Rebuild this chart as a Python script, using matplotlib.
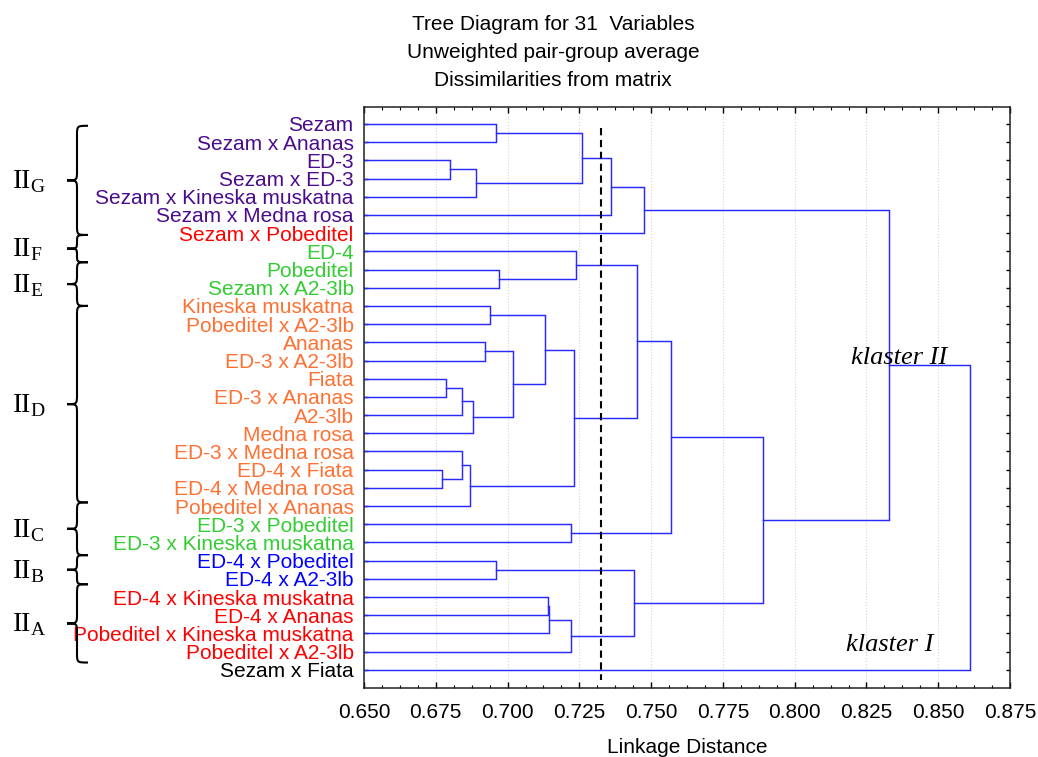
import matplotlib
matplotlib.use("Agg")
import matplotlib.pyplot as plt
from matplotlib.path import Path
from matplotlib.patches import PathPatch
from matplotlib.ticker import MultipleLocator, FormatStrFormatter

plt.rcParams['font.family'] = ['Liberation Sans', 'DejaVu Sans']
plt.rcParams['mathtext.fontset'] = 'custom'
plt.rcParams['mathtext.rm'] = 'Liberation Serif'

# leaves, top to bottom
labels = ["Sezam", "Sezam x Ananas", "ED-3", "Sezam x ED-3",
          "Sezam x Kineska muskatna", "Sezam x Medna rosa", "Sezam x Pobeditel",
          "ED-4", "Pobeditel", "Sezam x A2-3lb", "Kineska muskatna",
          "Pobeditel x A2-3lb", "Ananas", "ED-3 x A2-3lb", "Fiata",
          "ED-3 x Ananas", "A2-3lb", "Medna rosa", "ED-3 x Medna rosa",
          "ED-4 x Fiata", "ED-4 x Medna rosa", "Pobeditel x Ananas",
          "ED-3 x Pobeditel", "ED-3 x Kineska muskatna", "ED-4 x Pobeditel",
          "ED-4 x A2-3lb", "ED-4 x Kineska muskatna", "ED-4 x Ananas",
          "Pobeditel x Kineska muskatna", "Pobeditel x A2-3lb", "Sezam x Fiata"]

PURPLE = '#4b0c8c'
RED = '#ff0000'
GREEN = '#33cc33'
ORANGE = '#ff7033'
BLUE = '#0000ff'
label_colors = ([PURPLE] * 6 + [RED] + [GREEN] * 3 + [ORANGE] * 12 +
                [GREEN] * 2 + [BLUE] * 2 + [RED] * 4 + ['black'])

# merges (child a, child b, linkage distance); new node ids start at 31
merges = [
    (0, 1, 0.696),      # 31
    (2, 3, 0.680),      # 32
    (32, 4, 0.689),     # 33
    (31, 33, 0.726),    # 34
    (34, 5, 0.736),     # 35
    (35, 6, 0.7475),    # 36
    (8, 9, 0.697),      # 37
    (7, 37, 0.724),     # 38
    (10, 11, 0.694),    # 39
    (12, 13, 0.692),    # 40
    (14, 15, 0.6785),   # 41
    (41, 16, 0.684),    # 42
    (42, 17, 0.688),    # 43
    (40, 43, 0.702),    # 44
    (39, 44, 0.713),    # 45
    (19, 20, 0.677),    # 46
    (18, 46, 0.684),    # 47
    (47, 21, 0.687),    # 48
    (45, 48, 0.723),    # 49
    (38, 49, 0.745),    # 50
    (22, 23, 0.722),    # 51
    (50, 51, 0.757),    # 52
    (24, 25, 0.696),    # 53
    (26, 27, 0.714),    # 54
    (54, 28, 0.7145),   # 55
    (55, 29, 0.722),    # 56
    (53, 56, 0.744),    # 57
    (52, 57, 0.789),    # 58
    (36, 58, 0.833),    # 59
    (59, 30, 0.861),    # 60
]

cut_distance = 0.7324

# subgroup braces: name, top, bottom (in leaf units)
group_names = ["G", "F", "E", "D", "C", "B", "A"]
group_top = [0.1, 6.1, 7.6, 10.0, 20.8, 23.7, 25.3]
group_bottom = [6.1, 7.6, 10.0, 20.8, 23.7, 25.3, 29.6]

title_lines = ["Tree Diagram for 31  Variables", "Unweighted pair-group average",
               "Dissimilarities from matrix"]

W, H = 1038, 757
fig = plt.figure(figsize=(W / 100, H / 100), dpi=100)
ax = fig.add_axes([364 / W, 1 - 688 / H, (1010 - 364) / W, (688 - 106.7) / H])

x_min, x_max = 0.650, 0.875
n = len(labels)
line_color = '#2a2aff'

node_x = [x_min] * n
node_y = list(range(n))
for a, b, h in merges:
    ax.plot([node_x[a], h, h, node_x[b]], [node_y[a], node_y[a], node_y[b], node_y[b]],
            color=line_color, lw=1.05, solid_joinstyle='miter')
    node_x.append(h)
    node_y.append((node_y[a] + node_y[b]) / 2)

ax.plot([cut_distance, cut_distance], [0.22, 30.55], color='black', lw=1.5,
        dashes=(3.5, 2.2))

ax.set_xlim(x_min, x_max)
ax.set_ylim(31.0, -0.95)

ax.set_yticks(range(n))
ax.set_yticklabels(labels, fontsize=15)
for t, c in zip(ax.get_yticklabels(), label_colors):
    t.set_color(c)

ax.xaxis.set_major_locator(MultipleLocator(0.025))
ax.xaxis.set_minor_locator(MultipleLocator(0.00625))
ax.xaxis.set_major_formatter(FormatStrFormatter('%.3f'))
ax.tick_params(axis='x', which='major', direction='in', length=4, width=1,
               top=True, labelsize=15, pad=11)
ax.tick_params(axis='x', which='minor', direction='in', length=2.2, width=0.8, top=True)
ax.tick_params(axis='y', which='major', direction='in', length=2.8, width=1,
               right=True, pad=7.5)
ax.grid(axis='x', which='major', linestyle=':', color='#d4d4d4', lw=0.8)
for s in ax.spines.values():
    s.set_linewidth(1.1)
    s.set_color('#222222')

ax.set_xlabel("Linkage Distance", fontsize=15, labelpad=11)

for i, line in enumerate(title_lines):
    fig.text(553 / W, 1 - (25 + 27.5 * i) / H, line, ha='center', va='center', fontsize=15)

ax.text(0.8197, 13.2, "klaster II", fontsize=19, family='Liberation Serif',
        style='italic', ha='left', va='baseline')
ax.text(0.818, 28.95, "klaster I", fontsize=19, family='Liberation Serif',
        style='italic', ha='left', va='baseline')

# braces with subgroup names on the left
to_fig = fig.transFigure.inverted()
xr, xs, xt = 88, 77, 67
for name, top, bot in zip(group_names, group_top, group_bottom):
    y0 = ax.transData.transform((x_min, top))[1]
    y1 = ax.transData.transform((x_min, bot))[1]
    ym = (y0 + y1) / 2
    r = min(10, (y0 - y1) / 4)
    verts = [(xr, y0), (xs, y0), (xs, y0), (xs, y0 - r),
             (xs, ym + r),
             (xs, ym), (xs, ym), (xt, ym),
             (xs, ym), (xs, ym), (xs, ym - r),
             (xs, y1 + r),
             (xs, y1), (xs, y1), (xr, y1)]
    codes = ([Path.MOVETO] + [Path.CURVE4] * 3 + [Path.LINETO] + [Path.CURVE4] * 6 +
             [Path.LINETO] + [Path.CURVE4] * 3)
    verts = to_fig.transform(verts)
    fig.patches.append(PathPatch(Path(verts, codes), transform=fig.transFigure,
                                 fill=False, lw=1.5, color='black', figure=fig))
    fig.text(12 / W, (ym - 8) / H, r'$\mathrm{II}_{\mathrm{%s}}$' % name,
             fontsize=20, ha='left', va='baseline')

fig.savefig("out.png", dpi=100)
